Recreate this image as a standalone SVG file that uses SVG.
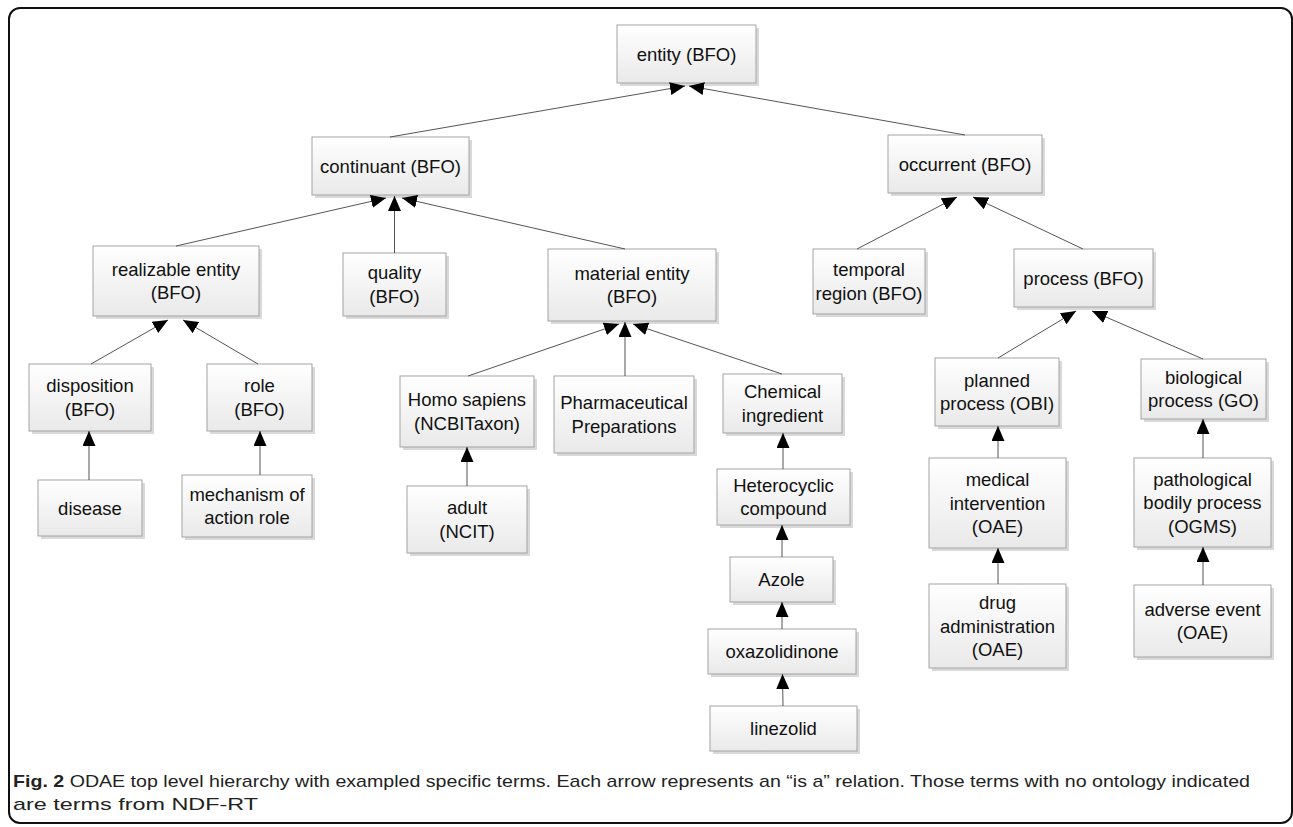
<svg xmlns="http://www.w3.org/2000/svg" width="1293" height="827" viewBox="0 0 1293 827">
<defs>
<linearGradient id="g" x1="0" y1="0" x2="0" y2="1">
<stop offset="0" stop-color="#ffffff"/>
<stop offset="1" stop-color="#e9e9e9"/>
</linearGradient>
<marker id="arr" viewBox="0 0 15 13" refX="15" refY="6.5" markerWidth="15" markerHeight="13" markerUnits="userSpaceOnUse" orient="auto">
<path d="M0,0 L15,6.5 L0,13 z" fill="#000"/>
</marker>
</defs>
<style>
.box{fill:url(#g);stroke:#a3a3a3;stroke-width:1}
.sh{fill:#d9d9d9}
.t{font-family:"Liberation Sans",Arial,sans-serif;font-size:18.5px;fill:#111;text-anchor:middle}
.c{stroke:#555;stroke-width:1;fill:none;marker-end:url(#arr)}
.cap{font-family:"Liberation Sans",Arial,sans-serif;font-size:17px;fill:#222}
</style>
<rect x="9" y="8" width="1283" height="815" rx="11" fill="#fff" stroke="#111" stroke-width="2"/>

<g id="entity"><rect class="sh" x="620" y="28" width="139" height="58"/><rect class="box" x="617" y="25" width="139" height="58"/><text class="t" x="686.5" y="60.6">entity (BFO)</text></g>
<g id="continuant"><rect class="sh" x="315" y="140" width="157" height="58"/><rect class="box" x="312" y="137" width="157" height="58"/><text class="t" x="390.5" y="172.6">continuant (BFO)</text></g>
<g id="occurrent"><rect class="sh" x="891" y="138" width="154" height="58"/><rect class="box" x="888" y="135" width="154" height="58"/><text class="t" x="965" y="170.6">occurrent (BFO)</text></g>
<g id="realizable"><rect class="sh" x="96" y="249" width="166" height="70"/><rect class="box" x="93" y="246" width="166" height="70"/><text class="t" x="176" y="275.9">realizable entity</text><text class="t" x="176" y="299.4">(BFO)</text></g>
<g id="quality"><rect class="sh" x="346" y="256" width="103" height="63"/><rect class="box" x="343" y="253" width="103" height="63"/><text class="t" x="394.5" y="279.4">quality</text><text class="t" x="394.5" y="302.9">(BFO)</text></g>
<g id="material"><rect class="sh" x="551" y="252" width="168" height="72"/><rect class="box" x="548" y="249" width="168" height="72"/><text class="t" x="632" y="279.9">material entity</text><text class="t" x="632" y="303.4">(BFO)</text></g>
<g id="temporal"><rect class="sh" x="816" y="252" width="112" height="65"/><rect class="box" x="813" y="249" width="112" height="65"/><text class="t" x="869" y="276.4">temporal</text><text class="t" x="869" y="299.9">region (BFO)</text></g>
<g id="process"><rect class="sh" x="1017" y="252" width="139" height="58"/><rect class="box" x="1014" y="249" width="139" height="58"/><text class="t" x="1083.5" y="284.6">process (BFO)</text></g>
<g id="disposition"><rect class="sh" x="32" y="367" width="122" height="67"/><rect class="box" x="29" y="364" width="122" height="67"/><text class="t" x="90" y="392.4">disposition</text><text class="t" x="90" y="415.9">(BFO)</text></g>
<g id="role"><rect class="sh" x="210" y="367" width="105" height="67"/><rect class="box" x="207" y="364" width="105" height="67"/><text class="t" x="259.5" y="392.4">role</text><text class="t" x="259.5" y="415.9">(BFO)</text></g>
<g id="homo"><rect class="sh" x="403" y="379" width="134" height="71"/><rect class="box" x="400" y="376" width="134" height="71"/><text class="t" x="467" y="406.4">Homo sapiens</text><text class="t" x="467" y="429.9">(NCBITaxon)</text></g>
<g id="pharma"><rect class="sh" x="557" y="379" width="140" height="77"/><rect class="box" x="554" y="376" width="140" height="77"/><text class="t" x="624" y="409.4">Pharmaceutical</text><text class="t" x="624" y="432.9">Preparations</text></g>
<g id="chemical"><rect class="sh" x="726" y="377" width="119" height="59"/><rect class="box" x="723" y="374" width="119" height="59"/><text class="t" x="782.5" y="398.4">Chemical</text><text class="t" x="782.5" y="421.9">ingredient</text></g>
<g id="planned"><rect class="sh" x="938" y="361" width="124" height="68"/><rect class="box" x="935" y="358" width="124" height="68"/><text class="t" x="997" y="386.9">planned</text><text class="t" x="997" y="410.4">process (OBI)</text></g>
<g id="biological"><rect class="sh" x="1144" y="362" width="125" height="60"/><rect class="box" x="1141" y="359" width="125" height="60"/><text class="t" x="1203.5" y="383.9">biological</text><text class="t" x="1203.5" y="407.4">process (GO)</text></g>
<g id="disease"><rect class="sh" x="41" y="483" width="104" height="56"/><rect class="box" x="38" y="480" width="104" height="56"/><text class="t" x="90" y="514.6">disease</text></g>
<g id="mechanism"><rect class="sh" x="185" y="478" width="130" height="62"/><rect class="box" x="182" y="475" width="130" height="62"/><text class="t" x="247" y="500.9">mechanism of</text><text class="t" x="247" y="524.4">action role</text></g>
<g id="adult"><rect class="sh" x="410" y="489" width="120" height="67"/><rect class="box" x="407" y="486" width="120" height="67"/><text class="t" x="467" y="514.4">adult</text><text class="t" x="467" y="537.9">(NCIT)</text></g>
<g id="heterocyclic"><rect class="sh" x="720" y="472" width="133" height="56"/><rect class="box" x="717" y="469" width="133" height="56"/><text class="t" x="783.5" y="491.9">Heterocyclic</text><text class="t" x="783.5" y="515.4">compound</text></g>
<g id="medical"><rect class="sh" x="932" y="461" width="137" height="90"/><rect class="box" x="929" y="458" width="137" height="90"/><text class="t" x="997.5" y="486.1">medical</text><text class="t" x="997.5" y="509.6">intervention</text><text class="t" x="997.5" y="533.1">(OAE)</text></g>
<g id="pathological"><rect class="sh" x="1137" y="461" width="137" height="89"/><rect class="box" x="1134" y="458" width="137" height="89"/><text class="t" x="1202.5" y="485.6">pathological</text><text class="t" x="1202.5" y="509.1">bodily process</text><text class="t" x="1202.5" y="532.6">(OGMS)</text></g>
<g id="azole"><rect class="sh" x="733" y="560" width="103" height="45"/><rect class="box" x="730" y="557" width="103" height="45"/><text class="t" x="781.5" y="586.1">Azole</text></g>
<g id="drug"><rect class="sh" x="932" y="587" width="137" height="84"/><rect class="box" x="929" y="584" width="137" height="84"/><text class="t" x="997.5" y="609.1">drug</text><text class="t" x="997.5" y="632.6">administration</text><text class="t" x="997.5" y="656.1">(OAE)</text></g>
<g id="adverse"><rect class="sh" x="1137" y="588" width="137" height="72"/><rect class="box" x="1134" y="585" width="137" height="72"/><text class="t" x="1202.5" y="615.9">adverse event</text><text class="t" x="1202.5" y="639.4">(OAE)</text></g>
<g id="oxazolidinone"><rect class="sh" x="711" y="632" width="148" height="45"/><rect class="box" x="708" y="629" width="148" height="45"/><text class="t" x="782" y="658.1">oxazolidinone</text></g>
<g id="linezolid"><rect class="sh" x="713" y="709" width="147" height="45"/><rect class="box" x="710" y="706" width="147" height="45"/><text class="t" x="783.5" y="735.1">linezolid</text></g>

<g id="connectors">
<line class="c" x1="390" y1="137" x2="685" y2="86"/>
<line class="c" x1="965" y1="135" x2="689" y2="86"/>
<line class="c" x1="176" y1="246" x2="386" y2="198"/>
<line class="c" x1="394.5" y1="253" x2="394.5" y2="196"/>
<line class="c" x1="625" y1="249" x2="402" y2="198"/>
<line class="c" x1="91" y1="364" x2="168" y2="320"/>
<line class="c" x1="258" y1="364" x2="183" y2="320"/>
<line class="c" x1="89" y1="480" x2="89" y2="431"/>
<line class="c" x1="260" y1="475" x2="260" y2="431"/>
<line class="c" x1="468" y1="376" x2="619" y2="324"/>
<line class="c" x1="625" y1="376" x2="625" y2="322"/>
<line class="c" x1="782" y1="374" x2="633" y2="324"/>
<line class="c" x1="467" y1="486" x2="467" y2="447"/>
<line class="c" x1="783" y1="469" x2="783" y2="433"/>
<line class="c" x1="782" y1="557" x2="782" y2="525"/>
<line class="c" x1="782" y1="629" x2="782" y2="602"/>
<line class="c" x1="783" y1="706" x2="782.5" y2="674"/>
<line class="c" x1="857" y1="249" x2="957" y2="197"/>
<line class="c" x1="1083" y1="249" x2="973" y2="197"/>
<line class="c" x1="998" y1="358" x2="1076" y2="311"/>
<line class="c" x1="1203" y1="359" x2="1092" y2="311"/>
<line class="c" x1="998" y1="458" x2="998" y2="426"/>
<line class="c" x1="998" y1="584" x2="998" y2="548"/>
<line class="c" x1="1203" y1="458" x2="1203" y2="419"/>
<line class="c" x1="1203" y1="585" x2="1203" y2="547"/>
</g>

<g id="caption">
<text class="cap" x="13" y="787" textLength="1237" lengthAdjust="spacingAndGlyphs"><tspan font-weight="bold">Fig. 2</tspan> ODAE top level hierarchy with exampled specific terms. Each arrow represents an “is a” relation. Those terms with no ontology indicated</text>
<text class="cap" x="13" y="810" textLength="245" lengthAdjust="spacingAndGlyphs">are terms from NDF-RT</text>
</g>
</svg>
